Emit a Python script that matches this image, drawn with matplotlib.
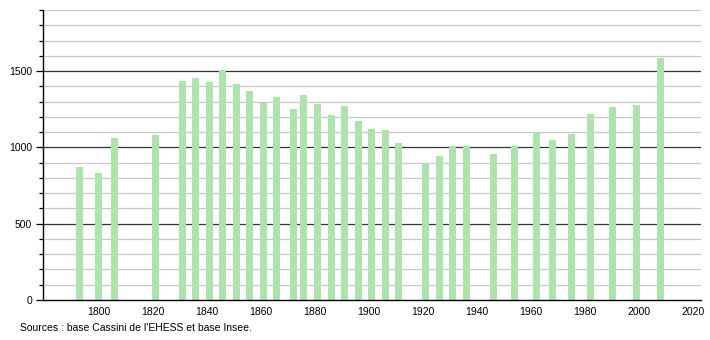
import numpy as np
import matplotlib.pyplot as plt
from matplotlib.ticker import MultipleLocator

plt.rcParams['font.family'] = ['Liberation Sans', 'DejaVu Sans']

# census years and population
years = [1793, 1800, 1806, 1821, 1831, 1836, 1841, 1846, 1851, 1856,
         1861, 1866, 1872, 1876, 1881, 1886, 1891, 1896, 1901, 1906,
         1911, 1921, 1926, 1931, 1936, 1946, 1954, 1962, 1968, 1975,
         1982, 1990, 1999, 2008]
population = [870, 831, 1059, 1079, 1436, 1454, 1428, 1507, 1413, 1371,
              1289, 1329, 1250, 1346, 1283, 1215, 1268, 1171, 1123, 1116,
              1031, 899, 941, 1007, 1007, 954, 1007, 1103, 1046, 1086,
              1221, 1263, 1276, 1583]
xticks = [1800, 1820, 1840, 1860, 1880, 1900, 1920, 1940, 1960, 1980, 2000, 2020]
yticks = [0, 500, 1000, 1500]

fig = plt.figure(figsize=(7.1, 3.4), dpi=100)
ax = fig.add_axes([43/710, 40/340, 658/710, 290/340])

# grid: light every 100, dark every 500
for v in range(100, 2000, 100):
    if v % 500 == 0:
        ax.axhline(v, color='#333333', lw=0.9, zorder=1)
    else:
        ax.axhline(v, color='#c8c8c8', lw=0.9, zorder=1)

ax.bar(years, population, width=2.6, color='#aee3ae', zorder=2)

ax.set_xlim(1779.5, 2022.8)
ax.set_ylim(0, 1900)
ax.set_xticks(xticks)
ax.set_yticks(yticks)
ax.yaxis.set_minor_locator(MultipleLocator(100))
ax.tick_params(axis='x', length=0, labelsize=7.5, pad=5)
ax.tick_params(axis='y', which='major', length=5, width=0.9, labelsize=7.5, pad=3)
ax.tick_params(axis='y', which='minor', length=3, width=0.9)

for s in ['top', 'right']:
    ax.spines[s].set_visible(False)
for s in ['left', 'bottom']:
    ax.spines[s].set_linewidth(1.0)
    ax.spines[s].set_color('black')

fig.text(20/710, 1 - 328/340, "Sources : base Cassini de l'EHESS et base Insee.",
         fontsize=7.5, va='center', ha='left')

fig.savefig('out.png', dpi=100)
